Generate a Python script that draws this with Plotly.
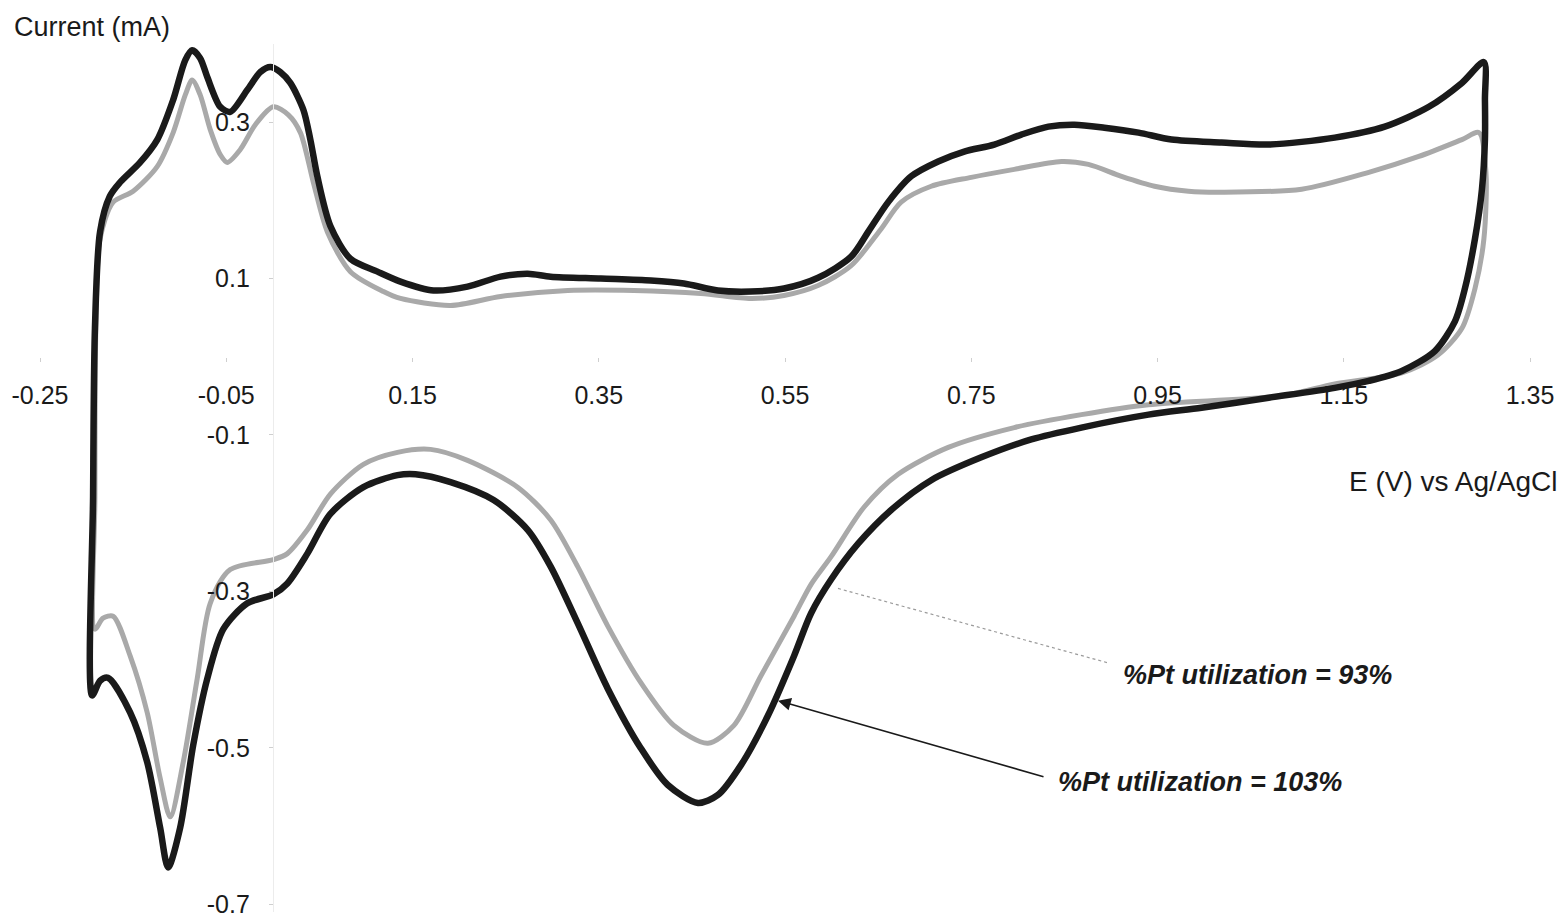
import plotly.graph_objects as go

# ---- data (E in V vs Ag/AgCl, current in mA) ----
E_103 = [-0.194, -0.193, -0.191, -0.1855, -0.175, -0.164, -0.1425, -0.124, -0.107, -0.094, -0.0866,
         -0.078, -0.0704, -0.0565, -0.0457, -0.0274, -0.0134, -0.0027, 0.0081, 0.0188, 0.0328, 0.0403,
         0.0478, 0.0618, 0.0833, 0.1124, 0.1371, 0.1726, 0.2091, 0.2446, 0.2737, 0.2984, 0.3522, 0.4059,
         0.4414, 0.478, 0.5134, 0.5489, 0.5855, 0.621, 0.64, 0.6608, 0.6855, 0.7145, 0.7425, 0.7747,
         0.8038, 0.8328, 0.8608, 0.893, 0.9296, 0.9651, 1.0188, 1.0694, 1.1403, 1.1941, 1.2414, 1.2769,
         1.3005, 1.3016, 1.3016, 1.2984, 1.2909, 1.2801, 1.2694, 1.2478, 1.2124, 1.1769, 1.1403, 1.0694,
         0.9973, 0.9403, 0.8683, 0.8145, 0.7608, 0.707, 0.664, 0.6285, 0.5995, 0.578, 0.5597, 0.5317,
         0.5027, 0.478, 0.4565, 0.4242, 0.3952, 0.3597, 0.3274, 0.2984, 0.2737, 0.2371, 0.1909, 0.1532,
         0.1339, 0.0973, 0.0618, 0.0371, 0.0156, 0.0005, -0.0274, -0.0532, -0.0704, -0.0855, -0.0995,
         -0.1124, -0.121, -0.1349, -0.1532, -0.1769, -0.1855, -0.194]
I_103 = [-0.433, -0.179, 0.0365, 0.160, 0.2054, 0.2232, 0.2486, 0.2778, 0.3286, 0.3794, 0.392,
         0.3819, 0.3578, 0.3197, 0.3133, 0.3413, 0.3641, 0.3705, 0.3641, 0.3502, 0.3159, 0.2778,
         0.2308, 0.1673, 0.1254, 0.1089, 0.0962, 0.0848, 0.0898, 0.1025, 0.1063, 0.1025, 0.100, 0.0975,
         0.0937, 0.0848, 0.0835, 0.0873, 0.1010, 0.1280, 0.1610, 0.1978, 0.2308, 0.2498, 0.2625, 0.2714,
         0.2841, 0.2943, 0.2968, 0.293, 0.2867, 0.2778, 0.274, 0.2714, 0.2803, 0.2943, 0.3197, 0.3502,
         0.3768, 0.3286, 0.2778, 0.2143, 0.1508, 0.0873, 0.0454, 0.0073, -0.0181, -0.0308, -0.0397, -0.0524,
         -0.0651, -0.074, -0.0905, -0.1057, -0.1286, -0.1578, -0.1959, -0.239, -0.2848, -0.3279, -0.3825, -0.4587,
         -0.5222, -0.5603, -0.5705, -0.5476, -0.5006, -0.4244, -0.3406, -0.2683, -0.2213, -0.1832, -0.1603, -0.1502,
         -0.1514, -0.1667, -0.201, -0.2517, -0.2898, -0.3038, -0.3152, -0.3483, -0.4117, -0.4968, -0.6022,
         -0.653, -0.6022, -0.5184, -0.4549, -0.4105, -0.4143, -0.433]

E_93 = [-0.191, -0.191, -0.190, -0.1855, -0.1715, -0.15, -0.124, -0.107, -0.094, -0.0866, -0.078,
        -0.0672, -0.0565, -0.0489, -0.0349, -0.0188, 0.0005, 0.0167, 0.0296, 0.0435, 0.0586, 0.0833,
        0.1188, 0.1371, 0.1909, 0.2446, 0.3167, 0.3876, 0.4597, 0.5134, 0.5489, 0.5855, 0.621, 0.6532,
        0.6747, 0.707, 0.75, 0.7962, 0.8468, 0.8758, 0.9113, 0.9468, 0.9833, 1.0188, 1.1048, 1.1769,
        1.2306, 1.2769, 1.2952, 1.3027, 1.3005, 1.2909, 1.2769, 1.2511, 1.2124, 1.1403, 1.0833, 0.9403,
        0.8683, 0.7962, 0.7253, 0.6715, 0.635, 0.5995, 0.578, 0.5597, 0.5242, 0.4952, 0.4672,
        0.4306, 0.3952, 0.3597, 0.3274, 0.2984, 0.2629, 0.2091, 0.1694, 0.1339, 0.0973, 0.0618, 0.0371,
        0.0156, 0.0005, -0.0457, -0.0672, -0.0812, -0.0962, -0.1102, -0.121, -0.1349, -0.1532, -0.1715,
        -0.1823, -0.191]
I_93 = [-0.3483, -0.179, 0.0365, 0.1508, 0.1978, 0.2117, 0.2435, 0.2867, 0.3349, 0.354, 0.3349,
        0.2905, 0.2587, 0.2486, 0.2651, 0.2968, 0.3197, 0.3095, 0.2867, 0.2232, 0.1597, 0.1089,
        0.0835, 0.0746, 0.0657, 0.0771, 0.0848, 0.0848, 0.081, 0.0746, 0.0784, 0.0911, 0.1165, 0.1635,
        0.1978, 0.2181, 0.2295, 0.2397, 0.2498, 0.246, 0.2308, 0.2181, 0.2117, 0.2105, 0.2143, 0.2359,
        0.2562, 0.2778, 0.2867, 0.2359, 0.1508, 0.0873, 0.0365, 0.0022, -0.0206, -0.0346, -0.0498, -0.0613,
        -0.074, -0.0905, -0.1159, -0.1502, -0.1921, -0.2556, -0.291, -0.3317, -0.4079, -0.4714, -0.4943,
        -0.4714, -0.4168, -0.3444, -0.2683, -0.2086, -0.1667, -0.1324, -0.1184, -0.1222, -0.1375, -0.1756, -0.2213,
        -0.2517, -0.2594, -0.2721, -0.3152, -0.4117, -0.5184, -0.5883, -0.5387, -0.4549, -0.3825, -0.3317,
        -0.3343, -0.3483]

x_ticks = [-0.25, -0.05, 0.15, 0.35, 0.55, 0.75, 0.95, 1.15, 1.35]
x_tick_labels = ["-0.25", "-0.05", "0.15", "0.35", "0.55", "0.75", "0.95", "1.15", "1.35"]
y_ticks = [0.3, 0.1, -0.1, -0.3, -0.5, -0.7]
y_tick_labels = ["0.3", "0.1", "-0.1", "-0.3", "-0.5", "-0.7"]

label_93 = "%Pt utilization = 93%"
label_103 = "%Pt utilization = 103%"

X_RANGE = [-0.25, 1.35]
Y_RANGE = [-0.71, 0.40]
FONT = "Arial, 'Liberation Sans', sans-serif"

fig = go.Figure()
fig.add_trace(go.Scatter(x=E_93, y=I_93, mode="lines", name=label_93,
                         line=dict(color="#a9a9a9", width=5, shape="spline", smoothing=0.8)))
fig.add_trace(go.Scatter(x=E_103, y=I_103, mode="lines", name=label_103,
                         line=dict(color="#1a1a1a", width=6.5, shape="spline", smoothing=0.8)))

x_pos = (0 - Y_RANGE[0]) / (Y_RANGE[1] - Y_RANGE[0])
y_pos = (0 - X_RANGE[0]) / (X_RANGE[1] - X_RANGE[0])

fig.update_layout(
    width=1565, height=924,
    margin=dict(l=40, r=35, t=44, b=6),
    paper_bgcolor="white", plot_bgcolor="white",
    showlegend=False,
    font=dict(family=FONT, color="#1a1a1a"),
    xaxis=dict(range=X_RANGE, tickvals=x_ticks, ticktext=x_tick_labels,
               anchor="free", position=x_pos, showgrid=False, zeroline=False,
               showline=False, ticks="outside", ticklen=4, tickcolor="#cfcfcf",
               ticklabelstandoff=12, tickfont=dict(size=25, family=FONT, color="#1a1a1a")),
    yaxis=dict(range=Y_RANGE, tickvals=y_ticks, ticktext=y_tick_labels,
               anchor="free", position=y_pos, showgrid=False, zeroline=False,
               showline=True, linecolor="#ececec", linewidth=1,
               ticks="outside", ticklen=4, tickcolor="#cfcfcf",
               ticklabelstandoff=14, tickfont=dict(size=25, family=FONT, color="#1a1a1a")),
)

fig.add_annotation(text="Current (mA)", xref="paper", yref="paper", x=-0.019, y=1.0195,
                   xanchor="left", yanchor="middle", showarrow=False,
                   font=dict(size=27, family=FONT, color="#1a1a1a"))
fig.add_annotation(text="E (V) vs Ag/AgCl", xref="paper", yref="paper", x=1.0201, y=0.4954,
                   xanchor="right", yanchor="middle", showarrow=False,
                   font=dict(size=28, family=FONT, color="#1a1a1a"))

# pointer for the 93% curve (dotted grey line)
fig.add_shape(type="line", xref="x", yref="y", x0=0.6069, y0=-0.2962, x1=0.8968, y1=-0.3914,
              line=dict(color="#9a9a9a", width=1.2, dash="dot"))
fig.add_annotation(text="<b><i>" + label_93 + "</i></b>", x=1.0574, y=-0.4067,
                   xref="x", yref="y", showarrow=False,
                   font=dict(size=27, family=FONT, color="#1a1a1a"))

# arrow for the 103% curve
fig.add_annotation(text="", x=0.5425, y=-0.4397, ax=0.8292, ay=-0.5375,
                   xref="x", yref="y", axref="x", ayref="y",
                   showarrow=True, arrowhead=2, arrowsize=1.6, arrowwidth=1.6, arrowcolor="#1a1a1a")
fig.add_annotation(text="<b><i>" + label_103 + "</i></b>", x=0.9956, y=-0.5438,
                   xref="x", yref="y", showarrow=False,
                   font=dict(size=27, family=FONT, color="#1a1a1a"))

fig.write_html("out.html")
